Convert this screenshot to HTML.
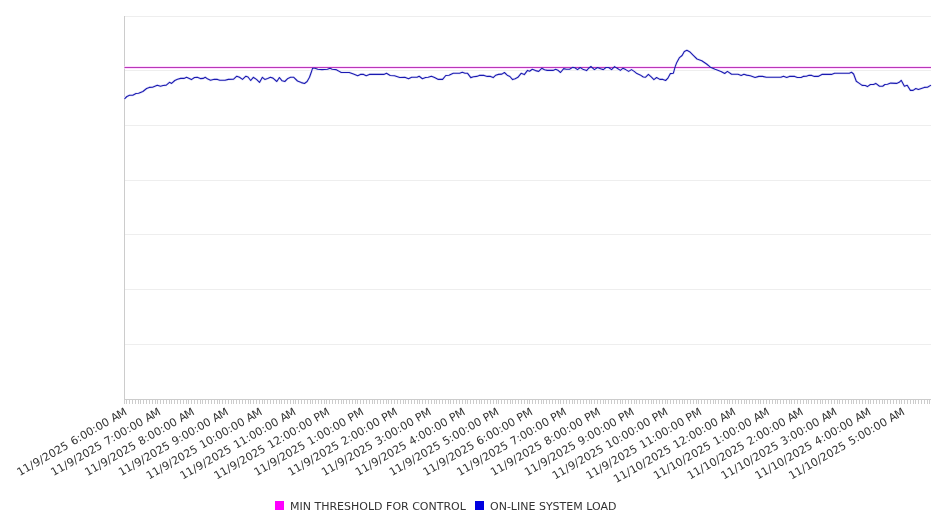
<!DOCTYPE html>
<html><head><meta charset="utf-8"><title>Chart</title>
<style>html,body{margin:0;padding:0;background:#fff}svg{display:block}text{font-family:"DejaVu Sans","Liberation Sans",sans-serif;fill:#333}</style></head><body>
<svg width="946" height="526" viewBox="0 0 946 526">
<rect width="946" height="526" fill="#fff"/>
<line x1="124.5" x2="931.0" y1="16.5" y2="16.5" stroke="#eeeeee" stroke-width="1"/>
<line x1="124.5" x2="931.0" y1="70.5" y2="70.5" stroke="#eeeeee" stroke-width="1"/>
<line x1="124.5" x2="931.0" y1="125.5" y2="125.5" stroke="#eeeeee" stroke-width="1"/>
<line x1="124.5" x2="931.0" y1="180.5" y2="180.5" stroke="#eeeeee" stroke-width="1"/>
<line x1="124.5" x2="931.0" y1="234.5" y2="234.5" stroke="#eeeeee" stroke-width="1"/>
<line x1="124.5" x2="931.0" y1="289.5" y2="289.5" stroke="#eeeeee" stroke-width="1"/>
<line x1="124.5" x2="931.0" y1="344.5" y2="344.5" stroke="#eeeeee" stroke-width="1"/>
<line x1="124.5" x2="124.5" y1="16.0" y2="400.0" stroke="#ccc" stroke-width="1"/>
<line x1="124.0" x2="931.0" y1="399.5" y2="399.5" stroke="#ccc" stroke-width="1"/>
<path d="M124.5 399.5v4.5M126.5 399.5v4.5M129.5 399.5v4.5M132.5 399.5v4.5M135.5 399.5v4.5M138.5 399.5v4.5M140.5 399.5v4.5M143.5 399.5v4.5M146.5 399.5v4.5M149.5 399.5v4.5M152.5 399.5v4.5M155.5 399.5v4.5M157.5 399.5v4.5M160.5 399.5v4.5M163.5 399.5v4.5M166.5 399.5v4.5M169.5 399.5v4.5M171.5 399.5v4.5M174.5 399.5v4.5M177.5 399.5v4.5M180.5 399.5v4.5M183.5 399.5v4.5M186.5 399.5v4.5M188.5 399.5v4.5M191.5 399.5v4.5M194.5 399.5v4.5M197.5 399.5v4.5M200.5 399.5v4.5M202.5 399.5v4.5M205.5 399.5v4.5M208.5 399.5v4.5M211.5 399.5v4.5M214.5 399.5v4.5M217.5 399.5v4.5M219.5 399.5v4.5M222.5 399.5v4.5M225.5 399.5v4.5M228.5 399.5v4.5M231.5 399.5v4.5M233.5 399.5v4.5M236.5 399.5v4.5M239.5 399.5v4.5M242.5 399.5v4.5M245.5 399.5v4.5M248.5 399.5v4.5M250.5 399.5v4.5M253.5 399.5v4.5M256.5 399.5v4.5M259.5 399.5v4.5M262.5 399.5v4.5M264.5 399.5v4.5M267.5 399.5v4.5M270.5 399.5v4.5M273.5 399.5v4.5M276.5 399.5v4.5M279.5 399.5v4.5M281.5 399.5v4.5M284.5 399.5v4.5M287.5 399.5v4.5M290.5 399.5v4.5M293.5 399.5v4.5M295.5 399.5v4.5M298.5 399.5v4.5M301.5 399.5v4.5M304.5 399.5v4.5M307.5 399.5v4.5M310.5 399.5v4.5M312.5 399.5v4.5M315.5 399.5v4.5M318.5 399.5v4.5M321.5 399.5v4.5M324.5 399.5v4.5M326.5 399.5v4.5M329.5 399.5v4.5M332.5 399.5v4.5M335.5 399.5v4.5M338.5 399.5v4.5M341.5 399.5v4.5M343.5 399.5v4.5M346.5 399.5v4.5M349.5 399.5v4.5M352.5 399.5v4.5M355.5 399.5v4.5M357.5 399.5v4.5M360.5 399.5v4.5M363.5 399.5v4.5M366.5 399.5v4.5M369.5 399.5v4.5M372.5 399.5v4.5M374.5 399.5v4.5M377.5 399.5v4.5M380.5 399.5v4.5M383.5 399.5v4.5M386.5 399.5v4.5M388.5 399.5v4.5M391.5 399.5v4.5M394.5 399.5v4.5M397.5 399.5v4.5M400.5 399.5v4.5M403.5 399.5v4.5M405.5 399.5v4.5M408.5 399.5v4.5M411.5 399.5v4.5M414.5 399.5v4.5M417.5 399.5v4.5M419.5 399.5v4.5M422.5 399.5v4.5M425.5 399.5v4.5M428.5 399.5v4.5M431.5 399.5v4.5M434.5 399.5v4.5M436.5 399.5v4.5M439.5 399.5v4.5M442.5 399.5v4.5M445.5 399.5v4.5M448.5 399.5v4.5M450.5 399.5v4.5M453.5 399.5v4.5M456.5 399.5v4.5M459.5 399.5v4.5M462.5 399.5v4.5M465.5 399.5v4.5M467.5 399.5v4.5M470.5 399.5v4.5M473.5 399.5v4.5M476.5 399.5v4.5M479.5 399.5v4.5M481.5 399.5v4.5M484.5 399.5v4.5M487.5 399.5v4.5M490.5 399.5v4.5M493.5 399.5v4.5M496.5 399.5v4.5M498.5 399.5v4.5M501.5 399.5v4.5M504.5 399.5v4.5M507.5 399.5v4.5M510.5 399.5v4.5M512.5 399.5v4.5M515.5 399.5v4.5M518.5 399.5v4.5M521.5 399.5v4.5M524.5 399.5v4.5M527.5 399.5v4.5M529.5 399.5v4.5M532.5 399.5v4.5M535.5 399.5v4.5M538.5 399.5v4.5M541.5 399.5v4.5M543.5 399.5v4.5M546.5 399.5v4.5M549.5 399.5v4.5M552.5 399.5v4.5M555.5 399.5v4.5M558.5 399.5v4.5M560.5 399.5v4.5M563.5 399.5v4.5M566.5 399.5v4.5M569.5 399.5v4.5M572.5 399.5v4.5M574.5 399.5v4.5M577.5 399.5v4.5M580.5 399.5v4.5M583.5 399.5v4.5M586.5 399.5v4.5M589.5 399.5v4.5M591.5 399.5v4.5M594.5 399.5v4.5M597.5 399.5v4.5M600.5 399.5v4.5M603.5 399.5v4.5M605.5 399.5v4.5M608.5 399.5v4.5M611.5 399.5v4.5M614.5 399.5v4.5M617.5 399.5v4.5M620.5 399.5v4.5M622.5 399.5v4.5M625.5 399.5v4.5M628.5 399.5v4.5M631.5 399.5v4.5M634.5 399.5v4.5M636.5 399.5v4.5M639.5 399.5v4.5M642.5 399.5v4.5M645.5 399.5v4.5M648.5 399.5v4.5M651.5 399.5v4.5M653.5 399.5v4.5M656.5 399.5v4.5M659.5 399.5v4.5M662.5 399.5v4.5M665.5 399.5v4.5M667.5 399.5v4.5M670.5 399.5v4.5M673.5 399.5v4.5M676.5 399.5v4.5M679.5 399.5v4.5M682.5 399.5v4.5M684.5 399.5v4.5M687.5 399.5v4.5M690.5 399.5v4.5M693.5 399.5v4.5M696.5 399.5v4.5M698.5 399.5v4.5M701.5 399.5v4.5M704.5 399.5v4.5M707.5 399.5v4.5M710.5 399.5v4.5M713.5 399.5v4.5M715.5 399.5v4.5M718.5 399.5v4.5M721.5 399.5v4.5M724.5 399.5v4.5M727.5 399.5v4.5M729.5 399.5v4.5M732.5 399.5v4.5M735.5 399.5v4.5M738.5 399.5v4.5M741.5 399.5v4.5M744.5 399.5v4.5M746.5 399.5v4.5M749.5 399.5v4.5M752.5 399.5v4.5M755.5 399.5v4.5M758.5 399.5v4.5M760.5 399.5v4.5M763.5 399.5v4.5M766.5 399.5v4.5M769.5 399.5v4.5M772.5 399.5v4.5M775.5 399.5v4.5M777.5 399.5v4.5M780.5 399.5v4.5M783.5 399.5v4.5M786.5 399.5v4.5M789.5 399.5v4.5M791.5 399.5v4.5M794.5 399.5v4.5M797.5 399.5v4.5M800.5 399.5v4.5M803.5 399.5v4.5M806.5 399.5v4.5M808.5 399.5v4.5M811.5 399.5v4.5M814.5 399.5v4.5M817.5 399.5v4.5M820.5 399.5v4.5M822.5 399.5v4.5M825.5 399.5v4.5M828.5 399.5v4.5M831.5 399.5v4.5M834.5 399.5v4.5M837.5 399.5v4.5M839.5 399.5v4.5M842.5 399.5v4.5M845.5 399.5v4.5M848.5 399.5v4.5M851.5 399.5v4.5M853.5 399.5v4.5M856.5 399.5v4.5M859.5 399.5v4.5M862.5 399.5v4.5M865.5 399.5v4.5M868.5 399.5v4.5M870.5 399.5v4.5M873.5 399.5v4.5M876.5 399.5v4.5M879.5 399.5v4.5M882.5 399.5v4.5M884.5 399.5v4.5M887.5 399.5v4.5M890.5 399.5v4.5M893.5 399.5v4.5M896.5 399.5v4.5M899.5 399.5v4.5M901.5 399.5v4.5M904.5 399.5v4.5M907.5 399.5v4.5M910.5 399.5v4.5M913.5 399.5v4.5M915.5 399.5v4.5M918.5 399.5v4.5M921.5 399.5v4.5M924.5 399.5v4.5M927.5 399.5v4.5M929.5 399.5v4.5" stroke="#ccc" stroke-width="1" fill="none"/>
<line x1="124.5" x2="931.0" y1="67.5" y2="67.5" stroke="#ffdcff" stroke-width="3"/>
<polyline points="124.5,98.8 126.9,96.5 129.6,95.2 132.8,95.2 136,93.5 138.6,93.3 142.9,91.5 146.6,88.5 149.3,87.4 152.5,87.2 157.3,85.3 160.5,86.3 163.1,85.5 166.3,85.1 169.5,82.3 171.6,83.4 174.8,80.5 177.5,79.2 180.7,78.4 183.9,78.4 186.6,77.3 191.4,79.6 194.5,77.5 197.2,77.3 200.4,78.6 203.1,78.4 205.2,77.3 207.9,79.1 210.5,80.3 214.3,79.2 217.4,79.4 219.8,80.3 225.1,80.3 228.3,79.4 233.6,79.2 236.8,76.2 239.5,77.3 242.5,79.4 245.9,76.2 248,77 250.7,80.5 253.3,77.3 256.5,79.4 259.5,82.4 262.4,77.3 264.8,79.4 267.7,78.4 270.4,77.3 273,78.1 276.8,81.5 279.4,77.5 282.1,80.8 284.8,81.5 287.9,78.4 290.6,77.3 293.8,77.3 297.5,81 301.3,82.6 304.5,83.5 307.1,81.5 309.5,77.3 311.1,72.8 312.6,68.2 315.1,68.2 317.8,69.3 322,69.6 327.4,69.3 330,68.2 332.2,69.3 335.9,69.6 338.5,70.9 341.2,72.5 349.2,72.5 353.5,74.1 357.7,75.7 360.4,74.4 363.6,74.4 366.2,75.7 369.4,74.4 377.4,74.4 383.8,74.4 386.5,73.3 390.2,75.5 394.5,75.7 399.8,77.5 404.8,77.3 408.5,78.7 411.7,77.3 417,77.3 419.2,76.2 422.4,78.7 425.6,77.5 428.2,77.3 431.4,76.2 434.6,77.6 438.3,79.4 442.6,79.4 445.8,75.5 449,75.2 453.3,73.3 459.6,73.2 462.3,72.3 465,73.2 467.6,73.3 470.8,77.6 473.5,76.8 476.7,76.4 479.3,75.4 484.1,75.4 487.3,76.4 490.5,76.4 493.2,77.6 495.8,75.2 498.4,74.4 501.9,74.1 504.4,72.5 507.2,75.2 509.9,76.5 512.6,79.6 515.2,78.7 517.9,77.3 521.1,73.3 524.3,74.6 527.5,70.4 529.6,71.2 532.3,69.3 535.5,70.6 538.7,71.4 541.9,68.2 544.5,69.8 547.2,70.4 553,70.4 555.7,69.3 557.8,70.2 560.5,72.5 563.7,68.6 566.4,69.3 569.5,69.3 572.7,67.4 574.9,67.7 577.5,69.6 580.2,67.5 583.4,69.6 586.6,70.6 588.7,68.2 590.9,66.5 594.4,69.6 597.5,67.5 600.6,68.8 603.3,69.6 606,67.5 608.6,67.5 611.6,69.6 614.5,66.6 617.2,68.2 620.4,70.4 623,68.2 625.7,69.6 628.6,71.4 631.5,69.6 634.2,71.4 636.9,73.6 640.1,74.9 643.3,77 645.4,77.3 648.4,74.4 651.2,76.8 653.9,79.6 656.6,77.5 659.8,79.4 663,79.4 665.6,80.5 667.7,78.4 670.4,73.6 673.4,73.2 675.2,66.6 676.8,62.4 679.5,57.6 682.1,55.5 684.3,51.6 686.9,50.3 689.6,51.7 693.3,55.4 697,59 701.8,60.8 706.6,64 710.4,67.2 715.1,69.3 721,71.4 724.7,73.5 727.4,71.4 731.6,74.3 738,74.3 741.2,75.4 743.9,74.3 746.6,75.1 750.3,75.7 755.1,77.5 758.8,76.4 762.5,76.4 766.3,77.3 775,77.3 780.9,77.3 783.5,76.2 786.7,77.5 789.4,76.4 794.7,76.4 797.4,77.5 801.1,77.5 803.2,76.4 806.4,76.2 809.1,75.2 811.7,75.4 814.4,76.4 818.1,76.4 821.9,74.4 831.4,74.4 834.6,73.3 849.3,73.3 851.5,72.3 853.6,74 856.3,81.2 859,83.1 862.1,85.4 865.3,85.5 867.4,86.6 870.4,84.5 873.5,84.5 875.8,83.4 879.5,86.3 882.7,86.3 884.9,84.5 887.5,84.2 890.7,83.1 896.6,83.4 899.2,82.3 901.2,80.3 904.4,86.3 907.2,85.3 910.4,90.4 913.1,90.4 915.8,88.5 918.4,89.5 924.3,87.4 927.5,87.2 931,85.1" fill="none" stroke="#e8e8fb" stroke-width="2.6" stroke-linejoin="round"/>
<line x1="124.5" x2="931.0" y1="67.5" y2="67.5" stroke="#b838b8" stroke-width="1"/>
<polyline points="124.5,98.8 126.9,96.5 129.6,95.2 132.8,95.2 136,93.5 138.6,93.3 142.9,91.5 146.6,88.5 149.3,87.4 152.5,87.2 157.3,85.3 160.5,86.3 163.1,85.5 166.3,85.1 169.5,82.3 171.6,83.4 174.8,80.5 177.5,79.2 180.7,78.4 183.9,78.4 186.6,77.3 191.4,79.6 194.5,77.5 197.2,77.3 200.4,78.6 203.1,78.4 205.2,77.3 207.9,79.1 210.5,80.3 214.3,79.2 217.4,79.4 219.8,80.3 225.1,80.3 228.3,79.4 233.6,79.2 236.8,76.2 239.5,77.3 242.5,79.4 245.9,76.2 248,77 250.7,80.5 253.3,77.3 256.5,79.4 259.5,82.4 262.4,77.3 264.8,79.4 267.7,78.4 270.4,77.3 273,78.1 276.8,81.5 279.4,77.5 282.1,80.8 284.8,81.5 287.9,78.4 290.6,77.3 293.8,77.3 297.5,81 301.3,82.6 304.5,83.5 307.1,81.5 309.5,77.3 311.1,72.8 312.6,68.2 315.1,68.2 317.8,69.3 322,69.6 327.4,69.3 330,68.2 332.2,69.3 335.9,69.6 338.5,70.9 341.2,72.5 349.2,72.5 353.5,74.1 357.7,75.7 360.4,74.4 363.6,74.4 366.2,75.7 369.4,74.4 377.4,74.4 383.8,74.4 386.5,73.3 390.2,75.5 394.5,75.7 399.8,77.5 404.8,77.3 408.5,78.7 411.7,77.3 417,77.3 419.2,76.2 422.4,78.7 425.6,77.5 428.2,77.3 431.4,76.2 434.6,77.6 438.3,79.4 442.6,79.4 445.8,75.5 449,75.2 453.3,73.3 459.6,73.2 462.3,72.3 465,73.2 467.6,73.3 470.8,77.6 473.5,76.8 476.7,76.4 479.3,75.4 484.1,75.4 487.3,76.4 490.5,76.4 493.2,77.6 495.8,75.2 498.4,74.4 501.9,74.1 504.4,72.5 507.2,75.2 509.9,76.5 512.6,79.6 515.2,78.7 517.9,77.3 521.1,73.3 524.3,74.6 527.5,70.4 529.6,71.2 532.3,69.3 535.5,70.6 538.7,71.4 541.9,68.2 544.5,69.8 547.2,70.4 553,70.4 555.7,69.3 557.8,70.2 560.5,72.5 563.7,68.6 566.4,69.3 569.5,69.3 572.7,67.4 574.9,67.7 577.5,69.6 580.2,67.5 583.4,69.6 586.6,70.6 588.7,68.2 590.9,66.5 594.4,69.6 597.5,67.5 600.6,68.8 603.3,69.6 606,67.5 608.6,67.5 611.6,69.6 614.5,66.6 617.2,68.2 620.4,70.4 623,68.2 625.7,69.6 628.6,71.4 631.5,69.6 634.2,71.4 636.9,73.6 640.1,74.9 643.3,77 645.4,77.3 648.4,74.4 651.2,76.8 653.9,79.6 656.6,77.5 659.8,79.4 663,79.4 665.6,80.5 667.7,78.4 670.4,73.6 673.4,73.2 675.2,66.6 676.8,62.4 679.5,57.6 682.1,55.5 684.3,51.6 686.9,50.3 689.6,51.7 693.3,55.4 697,59 701.8,60.8 706.6,64 710.4,67.2 715.1,69.3 721,71.4 724.7,73.5 727.4,71.4 731.6,74.3 738,74.3 741.2,75.4 743.9,74.3 746.6,75.1 750.3,75.7 755.1,77.5 758.8,76.4 762.5,76.4 766.3,77.3 775,77.3 780.9,77.3 783.5,76.2 786.7,77.5 789.4,76.4 794.7,76.4 797.4,77.5 801.1,77.5 803.2,76.4 806.4,76.2 809.1,75.2 811.7,75.4 814.4,76.4 818.1,76.4 821.9,74.4 831.4,74.4 834.6,73.3 849.3,73.3 851.5,72.3 853.6,74 856.3,81.2 859,83.1 862.1,85.4 865.3,85.5 867.4,86.6 870.4,84.5 873.5,84.5 875.8,83.4 879.5,86.3 882.7,86.3 884.9,84.5 887.5,84.2 890.7,83.1 896.6,83.4 899.2,82.3 901.2,80.3 904.4,86.3 907.2,85.3 910.4,90.4 913.1,90.4 915.8,88.5 918.4,89.5 924.3,87.4 927.5,87.2 931,85.1" fill="none" stroke="#1a1ab0" stroke-width="1.1" stroke-linejoin="round"/>
<text x="127.70" y="414" dx="0 0 0.2 0.3 0 0.3 0 0 0 0 0.9 0 0.3 0 0 0.3 0 0 0.1 -0.7" font-size="11" text-anchor="end" transform="rotate(-30 127.70 414)">11/9/2025 6:00:00 AM</text>
<text x="161.52" y="414" dx="0 0 0.2 0.3 0 0.3 0 0 0 0 0.9 0 0.3 0 0 0.3 0 0 0.1 -0.7" font-size="11" text-anchor="end" transform="rotate(-30 161.52 414)">11/9/2025 7:00:00 AM</text>
<text x="195.33" y="414" dx="0 0 0.2 0.3 0 0.3 0 0 0 0 0.9 0 0.3 0 0 0.3 0 0 0.1 -0.7" font-size="11" text-anchor="end" transform="rotate(-30 195.33 414)">11/9/2025 8:00:00 AM</text>
<text x="229.15" y="414" dx="0 0 0.2 0.3 0 0.3 0 0 0 0 0.9 0 0.3 0 0 0.3 0 0 0.1 -0.7" font-size="11" text-anchor="end" transform="rotate(-30 229.15 414)">11/9/2025 9:00:00 AM</text>
<text x="262.96" y="414" dx="0 0 0.2 0.3 0 0.3 0 0 0 0 0.9 0 0 0.3 0 0 0.3 0 0 0.1 -0.7" font-size="11" text-anchor="end" transform="rotate(-30 262.96 414)">11/9/2025 10:00:00 AM</text>
<text x="296.78" y="414" dx="0 0 0.2 0.3 0 0.3 0 0 0 0 0.9 0 0 0.3 0 0 0.3 0 0 0.1 -0.7" font-size="11" text-anchor="end" transform="rotate(-30 296.78 414)">11/9/2025 11:00:00 AM</text>
<text x="330.60" y="414" dx="0 0 0.2 0.3 0 0.3 0 0 0 0 0.9 0 0 0.3 0 0 0.3 0 0 0.1 0" font-size="11" text-anchor="end" transform="rotate(-30 330.60 414)">11/9/2025 12:00:00 PM</text>
<text x="364.41" y="414" dx="0 0 0.2 0.3 0 0.3 0 0 0 0 0.9 0 0.3 0 0 0.3 0 0 0.1 0" font-size="11" text-anchor="end" transform="rotate(-30 364.41 414)">11/9/2025 1:00:00 PM</text>
<text x="398.23" y="414" dx="0 0 0.2 0.3 0 0.3 0 0 0 0 0.9 0 0.3 0 0 0.3 0 0 0.1 0" font-size="11" text-anchor="end" transform="rotate(-30 398.23 414)">11/9/2025 2:00:00 PM</text>
<text x="432.04" y="414" dx="0 0 0.2 0.3 0 0.3 0 0 0 0 0.9 0 0.3 0 0 0.3 0 0 0.1 0" font-size="11" text-anchor="end" transform="rotate(-30 432.04 414)">11/9/2025 3:00:00 PM</text>
<text x="465.86" y="414" dx="0 0 0.2 0.3 0 0.3 0 0 0 0 0.9 0 0.3 0 0 0.3 0 0 0.1 0" font-size="11" text-anchor="end" transform="rotate(-30 465.86 414)">11/9/2025 4:00:00 PM</text>
<text x="499.68" y="414" dx="0 0 0.2 0.3 0 0.3 0 0 0 0 0.9 0 0.3 0 0 0.3 0 0 0.1 0" font-size="11" text-anchor="end" transform="rotate(-30 499.68 414)">11/9/2025 5:00:00 PM</text>
<text x="533.49" y="414" dx="0 0 0.2 0.3 0 0.3 0 0 0 0 0.9 0 0.3 0 0 0.3 0 0 0.1 0" font-size="11" text-anchor="end" transform="rotate(-30 533.49 414)">11/9/2025 6:00:00 PM</text>
<text x="567.31" y="414" dx="0 0 0.2 0.3 0 0.3 0 0 0 0 0.9 0 0.3 0 0 0.3 0 0 0.1 0" font-size="11" text-anchor="end" transform="rotate(-30 567.31 414)">11/9/2025 7:00:00 PM</text>
<text x="601.12" y="414" dx="0 0 0.2 0.3 0 0.3 0 0 0 0 0.9 0 0.3 0 0 0.3 0 0 0.1 0" font-size="11" text-anchor="end" transform="rotate(-30 601.12 414)">11/9/2025 8:00:00 PM</text>
<text x="634.94" y="414" dx="0 0 0.2 0.3 0 0.3 0 0 0 0 0.9 0 0.3 0 0 0.3 0 0 0.1 0" font-size="11" text-anchor="end" transform="rotate(-30 634.94 414)">11/9/2025 9:00:00 PM</text>
<text x="668.76" y="414" dx="0 0 0.2 0.3 0 0.3 0 0 0 0 0.9 0 0 0.3 0 0 0.3 0 0 0.1 0" font-size="11" text-anchor="end" transform="rotate(-30 668.76 414)">11/9/2025 10:00:00 PM</text>
<text x="702.57" y="414" dx="0 0 0.2 0.3 0 0.3 0 0 0 0 0.9 0 0 0.3 0 0 0.3 0 0 0.1 0" font-size="11" text-anchor="end" transform="rotate(-30 702.57 414)">11/9/2025 11:00:00 PM</text>
<text x="736.39" y="414" dx="0 0 0.2 0.3 0 0 0.3 0 0 0 0 0.9 0 0 0.3 0 0 0.3 0 0 0.1 -0.7" font-size="11" text-anchor="end" transform="rotate(-30 736.39 414)">11/10/2025 12:00:00 AM</text>
<text x="770.20" y="414" dx="0 0 0.2 0.3 0 0 0.3 0 0 0 0 0.9 0 0.3 0 0 0.3 0 0 0.1 -0.7" font-size="11" text-anchor="end" transform="rotate(-30 770.20 414)">11/10/2025 1:00:00 AM</text>
<text x="804.02" y="414" dx="0 0 0.2 0.3 0 0 0.3 0 0 0 0 0.9 0 0.3 0 0 0.3 0 0 0.1 -0.7" font-size="11" text-anchor="end" transform="rotate(-30 804.02 414)">11/10/2025 2:00:00 AM</text>
<text x="837.84" y="414" dx="0 0 0.2 0.3 0 0 0.3 0 0 0 0 0.9 0 0.3 0 0 0.3 0 0 0.1 -0.7" font-size="11" text-anchor="end" transform="rotate(-30 837.84 414)">11/10/2025 3:00:00 AM</text>
<text x="871.65" y="414" dx="0 0 0.2 0.3 0 0 0.3 0 0 0 0 0.9 0 0.3 0 0 0.3 0 0 0.1 -0.7" font-size="11" text-anchor="end" transform="rotate(-30 871.65 414)">11/10/2025 4:00:00 AM</text>
<text x="905.47" y="414" dx="0 0 0.2 0.3 0 0 0.3 0 0 0 0 0.9 0 0.3 0 0 0.3 0 0 0.1 -0.7" font-size="11" text-anchor="end" transform="rotate(-30 905.47 414)">11/10/2025 5:00:00 AM</text>
<rect x="275" y="501" width="9" height="9" fill="#ff00ff"/>
<text x="290" y="510" font-size="11">MIN THRESHOLD FOR CONTROL</text>
<rect x="475" y="501" width="9" height="9" fill="#0000e0"/>
<text x="490" y="510" font-size="11">ON-LINE SYSTEM LOAD</text>
</svg></body></html>
